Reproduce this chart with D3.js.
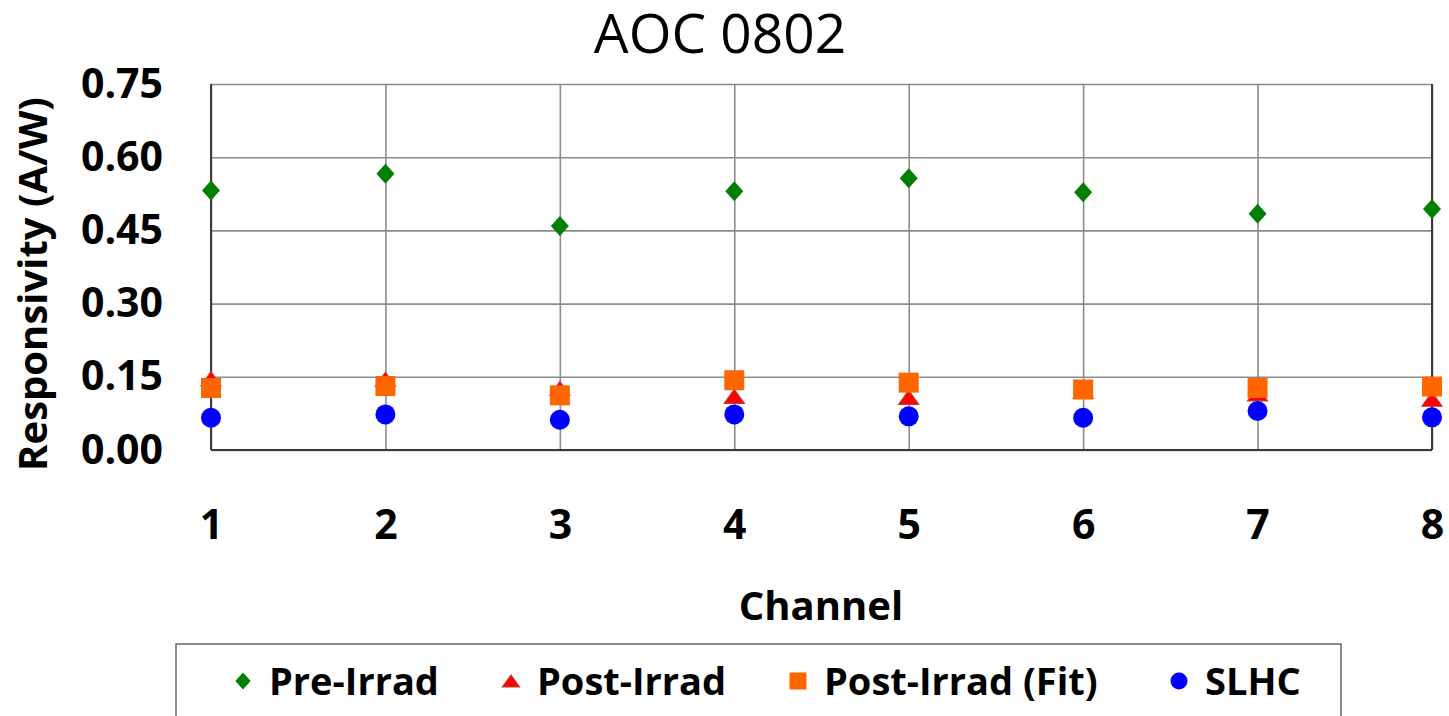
<!DOCTYPE html>
<html>
<head>
<meta charset="utf-8">
<script src="https://cdn.jsdelivr.net/npm/d3@7"></script>
<style>
  html, body { margin: 0; padding: 0; background: #fff; }
  svg { display: block; font-family: "Open Sans", "Liberation Sans", sans-serif; }
</style>
</head>
<body>
<svg id="chart" width="1449" height="716"></svg>
<script>
// Responsivity per channel for the AOC 0802 array
const channels = [1, 2, 3, 4, 5, 6, 7, 8];
const preIrrad = [0.532, 0.566, 0.459, 0.530, 0.557, 0.528, 0.484, 0.494];
const postIrrad = [0.146, 0.145, 0.126, 0.110, 0.108, 0.120, 0.115, 0.104];
const postIrradFit = [0.127, 0.131, 0.112, 0.143, 0.138, 0.124, 0.127, 0.130];
const slhc = [0.066, 0.073, 0.062, 0.073, 0.069, 0.066, 0.080, 0.067];
const yTicks = [0.00, 0.15, 0.30, 0.45, 0.60, 0.75];
const seriesNames = ["Pre-Irrad", "Post-Irrad", "Post-Irrad (Fit)", "SLHC"];

const svg = d3.select("#chart");
const plot = { left: 211, right: 1432, top: 84, bottom: 450 };

const x = d3.scaleLinear().domain([1, 8]).range([plot.left, plot.right]);
const y = d3.scaleLinear().domain([0, 0.75]).range([plot.bottom, plot.top]);

// Title
svg.append("text")
  .attr("x", 720).attr("y", 53)
  .attr("text-anchor", "middle")
  .attr("font-size", 55)
  .attr("fill", "#000")
  .text("AOC 0802");

// Horizontal gridlines + y tick labels
const yAxis = svg.append("g")
  .attr("transform", `translate(${plot.left},0)`)
  .call(d3.axisLeft(y)
    .tickValues(yTicks)
    .tickFormat(d3.format(".2f"))
    .tickSizeInner(-(plot.right - plot.left))
    .tickSizeOuter(0)
    .tickPadding(48));
yAxis.select(".domain").remove();
yAxis.selectAll(".tick line").attr("stroke", "#8c8c8c").attr("stroke-width", 1.6);
yAxis.selectAll(".tick text")
  .attr("font-size", 41).attr("font-weight", "bold").attr("fill", "#000")
  .attr("font-family", "'Open Sans', sans-serif");

// Vertical gridlines + x tick labels
const xAxis = svg.append("g")
  .attr("transform", `translate(0,${plot.bottom})`)
  .call(d3.axisBottom(x)
    .tickValues(channels)
    .tickFormat(d3.format("d"))
    .tickSizeInner(-(plot.bottom - plot.top))
    .tickSizeOuter(0)
    .tickPadding(60));
xAxis.select(".domain").remove();
xAxis.selectAll(".tick line").attr("stroke", "#8c8c8c").attr("stroke-width", 1.6);
xAxis.selectAll(".tick text")
  .attr("font-size", 41).attr("font-weight", "bold").attr("fill", "#000")
  .attr("font-family", "'Open Sans', sans-serif");

// Plot frame: left, bottom and right edges drawn darker
const frame = svg.append("g").attr("stroke", "#3a3a3a").attr("stroke-width", 2).attr("fill", "none");
frame.append("line").attr("x1", plot.left).attr("x2", plot.left).attr("y1", plot.top).attr("y2", plot.bottom);
frame.append("line").attr("x1", plot.left).attr("x2", plot.right).attr("y1", plot.bottom).attr("y2", plot.bottom);
frame.append("line").attr("x1", plot.right).attr("x2", plot.right).attr("y1", plot.top).attr("y2", plot.bottom);

// Axis titles
svg.append("text")
  .attr("transform", `translate(47,284) rotate(-90)`)
  .attr("text-anchor", "middle")
  .attr("font-size", 40).attr("font-weight", "bold")
  .text("Responsivity (A/W)");

svg.append("text")
  .attr("x", 821).attr("y", 620)
  .attr("text-anchor", "middle")
  .attr("font-size", 40).attr("font-weight", "bold")
  .text("Channel");

// Marker shapes
const diamond = (w, h) => `M0,${-h/2}L${w/2},0L0,${h/2}L${-w/2},0Z`;
const triangle = (w, h) => `M0,${-h/2}L${w/2},${h/2}L${-w/2},${h/2}Z`;

const series = [
  { name: seriesNames[0], values: preIrrad, kind: "diamond", fill: "#008000", stroke: "#008000" },
  { name: seriesNames[1], values: postIrrad, kind: "triangle", fill: "#ff0000", stroke: "#c0392b" },
  { name: seriesNames[2], values: postIrradFit, kind: "square", fill: "#ff6600", stroke: "#ff6600" },
  { name: seriesNames[3], values: slhc, kind: "circle", fill: "#0000ff", stroke: "#0000ff" }
];

function drawMarker(g, kind, s, fill, stroke) {
  if (kind === "diamond") {
    g.append("path").attr("d", diamond(s * 0.9, s)).attr("fill", fill);
  } else if (kind === "triangle") {
    g.append("path").attr("d", triangle(s, s * 0.7)).attr("fill", fill)
      .attr("stroke", stroke).attr("stroke-width", 1.2);
  } else if (kind === "square") {
    g.append("rect").attr("x", -s/2).attr("y", -s/2).attr("width", s).attr("height", s).attr("fill", fill);
  } else {
    g.append("circle").attr("r", s/2).attr("fill", fill);
  }
}

series.forEach(sr => {
  const g = svg.append("g");
  sr.values.forEach((v, i) => {
    const m = g.append("g").attr("transform", `translate(${x(channels[i])},${y(v)})`);
    drawMarker(m, sr.kind, 20, sr.fill, sr.stroke);
  });
});

// Legend
const legend = svg.append("g");
legend.append("rect")
  .attr("x", 176).attr("y", 644).attr("width", 1165).attr("height", 100)
  .attr("fill", "#fff").attr("stroke", "#707070").attr("stroke-width", 1.6);

const legendX = [243, 511, 798, 1179];
series.forEach((sr, i) => {
  const m = legend.append("g").attr("transform", `translate(${legendX[i]},681)`);
  drawMarker(m, sr.kind, 17, sr.fill, sr.stroke);
  legend.append("text")
    .attr("x", legendX[i] + 26).attr("y", 695)
    .attr("font-size", 38).attr("font-weight", "bold")
    .text(sr.name);
});
</script>
</body>
</html>
